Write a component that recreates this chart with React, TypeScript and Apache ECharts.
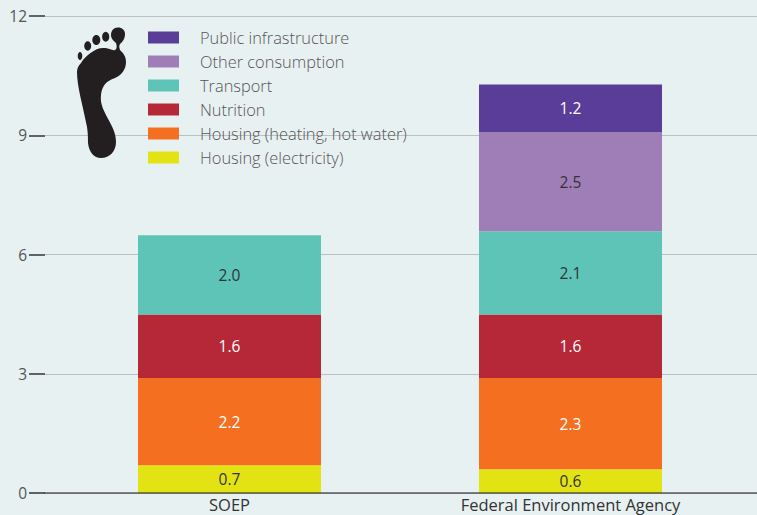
import React, { useEffect, useRef } from "react";
import * as echarts from "echarts";

const categories = ["SOEP", "Federal Environment Agency"];
const electricity = [0.7, 0.6];
const heating = [2.2, 2.3];
const nutrition = [1.6, 1.6];
const transport = [2.0, 2.1];
const otherConsumption = [null, 2.5];
const publicInfrastructure = [null, 1.2];
const yTicks = [0, 3, 6, 9, 12];

const FONT = "'Open Sans', sans-serif";
const DARK = "#333333";

const FOOT =
  "M77 72 C77 86 82 102 87 127 C88 134 88 138 88 143 C89 152 94 158 101 158 C110 158 116 151 116 142 C116 133 112 126 107 117 C103 109 100 103 101 95 C102 86 106 81 115 78 C122 75 126 69 126 62 C126 56 123 53 120 50 C119 47 119 46 120 44 C124 41 125 37 125 34 C125 30 122 27.5 118 27.5 C113.5 27.5 111 31 111 35 C111 39 114 41 116 43 C117 46 117 49 115 50 C112 51 110 48 103 48 C95 48 85 56 81 63 C78 66 77 69 77 72 Z";

const legendColors: Record<string, string> = {
  "Public infrastructure": "#5a3d99",
  "Other consumption": "#9f7eb8",
  Transport: "#5ec4b8",
  Nutrition: "#b62837",
  "Housing (heating, hot water)": "#f56f21",
  "Housing (electricity)": "#e3e314",
};
const legendOrder = Object.keys(legendColors);

function bar(name: string, data: (number | null)[], labelColor: string) {
  return {
    name,
    type: "bar",
    stack: "total",
    xAxisIndex: 1,
    yAxisIndex: 1,
    data,
    barWidth: 183,
    itemStyle: { color: legendColors[name] },
    label: {
      show: true,
      position: "inside",
      color: labelColor,
      fontFamily: FONT,
      fontSize: 15.5,
      formatter: (p: any) => Number(p.value).toFixed(1),
    },
  };
}

export default function App() {
  const ref = useRef<HTMLDivElement>(null);
  useEffect(() => {
    document.body.style.margin = "0";
    echarts.graphic.registerShape("foot", echarts.graphic.extendPath(FOOT, {}));
    const chart = echarts.init(ref.current!, null, { renderer: "svg" });
    chart.setOption({
      animation: false,
      backgroundColor: "#e8f1f2",
      grid: [
        { left: 45, right: 0, top: 16, bottom: 22 },
        { left: 59, right: 16, top: 17, bottom: 22 },
      ],
      xAxis: [
        {
          gridIndex: 0,
          type: "category",
          data: [""],
          z: 6,
          axisTick: { show: false },
          axisLabel: { show: false },
          axisLine: { lineStyle: { color: "rgba(40,40,40,0.55)", width: 2 } },
        },
        {
          gridIndex: 1,
          type: "category",
          data: categories,
          axisLine: { show: false },
          axisTick: { show: false },
          axisLabel: { color: DARK, fontFamily: FONT, fontSize: 16.5, margin: 3, lineHeight: 16 },
        },
      ],
      yAxis: [
        {
          gridIndex: 0,
          type: "value",
          min: yTicks[0],
          max: yTicks[yTicks.length - 1],
          interval: 3,
          axisLine: { show: false },
          axisTick: { show: true, length: 16, lineStyle: { color: "#333333", width: 1.5 } },
          axisLabel: { color: "#555555", fontFamily: FONT, fontSize: 15.5, margin: 18 },
          splitLine: { lineStyle: { color: "#bcbfc1", width: 1 } },
        },
        { gridIndex: 1, type: "value", min: 0, max: 12, show: false },
      ],
      legend: {
        left: 148,
        top: 28,
        padding: 0,
        orient: "vertical",
        itemWidth: 31,
        itemHeight: 12,
        itemGap: 5,
        data: legendOrder,
        icon: "rect",
        selectedMode: false,
        textStyle: {
          color: "#555555",
          fontFamily: FONT,
          fontSize: 16.4,
          fontWeight: 300,
          padding: [0, 0, 0, 16],
          lineHeight: 19,
        },
      },
      series: [
        bar("Housing (electricity)", electricity, DARK),
        bar("Housing (heating, hot water)", heating, "#ffffff"),
        bar("Nutrition", nutrition, "#ffffff"),
        bar("Transport", transport, DARK),
        bar("Other consumption", otherConsumption, DARK),
        bar("Public infrastructure", publicInfrastructure, "#ffffff"),
      ],
      graphic: [
        { type: "foot", x: 0, y: 0, z: 10, style: { fill: "#231f20" } },
        { type: "ellipse", shape: { cx: 105.7, cy: 36.7, rx: 3.6, ry: 5 }, z: 10, style: { fill: "#231f20" } },
        { type: "ellipse", shape: { cx: 96.3, cy: 40, rx: 4, ry: 5 }, z: 10, style: { fill: "#231f20" } },
        { type: "ellipse", shape: { cx: 87.7, cy: 46, rx: 3.5, ry: 4.7 }, z: 10, style: { fill: "#231f20" } },
        { type: "ellipse", shape: { cx: 80, cy: 56, rx: 2.3, ry: 4 }, z: 10, style: { fill: "#231f20" } },
      ],
    });
    return () => chart.dispose();
  }, []);
  return <div ref={ref} style={{ width: 757, height: 515 }} />;
}
